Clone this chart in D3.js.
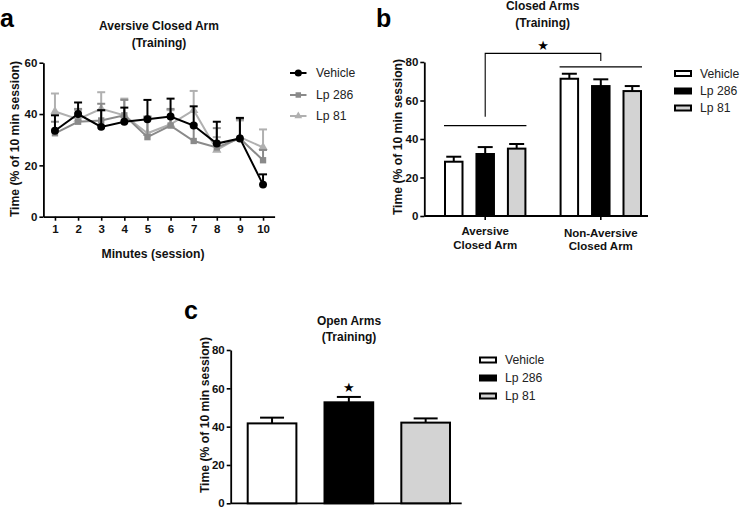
<!DOCTYPE html>
<html><head><meta charset="utf-8">
<script src="https://cdn.jsdelivr.net/npm/d3@7"></script>
<style>
body{margin:0;background:#fff;}
svg{display:block;font-family:"Liberation Sans",Arial,sans-serif;}
</style></head><body>
<svg id="c" width="740" height="508"></svg>
<script>
// ---------- data ----------
const minutes = [1,2,3,4,5,6,7,8,9,10];
const seriesNames = ["Vehicle","Lp 286","Lp 81"];
const vehicleMean = [33.5,40,35,37,38,39,35.5,28.5,30.5,12.5];
const vehicleErr  = [39.5,44.5,41.5,42.5,45.5,46,43,37,38.5,16.5];
const lp286Mean   = [32.5,37,37.5,39.5,31,35.5,29.5,27,30.5,22];
const lp286Err    = [37,42,44,45.5,39,42,36,34.5,38,26];
const lp81Mean    = [41,38,42,39.5,32.5,36,41.5,26,31,27];
const lp81Err     = [48,41.5,48.5,46,39,41.5,49,31,37.5,34];
const ticksA = [0,20,40,60];

const closedGroups = ["Aversive|Closed Arm","Non-Aversive|Closed Arm"];
const closedMean = {"Vehicle":[28.2,71.3],"Lp 286":[32.2,67.5],"Lp 81":[35,64.9]};
const closedErr  = {"Vehicle":[30.8,73.9],"Lp 286":[35.8,71],"Lp 81":[37.4,67.5]};
const ticksB = [0,20,40,60,80];

const openMean = [41.7,52.7,42.1];
const openErr  = [44.7,55.5,44.3];
const ticksC = [0,20,40,60,80];

const barFill = {"Vehicle":"#ffffff","Lp 286":"#000000","Lp 81":"#d3d3d3"};
const lineColor = {"Vehicle":"#000000","Lp 286":"#8a8a8a","Lp 81":"#b0b0b0"};

const svg = d3.select("#c");
const FONT = '"Liberation Sans",Arial,sans-serif';

function yAxis(g, y, ticks){
  const ax = g.call(d3.axisLeft(y).tickValues(ticks).tickSize(4).tickSizeOuter(0).tickPadding(2));
  ax.select(".domain").attr("stroke-width",1.8);
  ax.selectAll(".tick line").attr("stroke-width",1.6);
  ax.selectAll("text").attr("font-size",11.5).attr("font-weight","bold").attr("font-family",FONT).attr("fill","#111");
}
function title(x, y1, lines){
  lines.forEach((t,i)=>svg.append("text").attr("x",x).attr("y",y1+i*16.5).attr("text-anchor","middle")
    .attr("font-size",12).attr("font-weight","bold").attr("fill","#111").text(t));
}
function ylabel(x,y){
  svg.append("text").attr("transform",`translate(${x},${y}) rotate(-90)`).attr("text-anchor","middle")
    .attr("dominant-baseline","central").attr("font-size",12.2).attr("font-weight","bold").attr("fill","#111")
    .text("Time (% of 10 min session)");
}
function letter(x,y,t){
  svg.append("text").attr("x",x).attr("y",y).attr("font-size",25).attr("font-weight","bold").attr("fill","#000").text(t);
}
function star(x,y){
  svg.append("text").attr("x",x).attr("y",y).attr("text-anchor","middle").attr("dominant-baseline","central")
    .attr("font-family","DejaVu Sans").attr("font-size",13).attr("fill","#000").text("\u2605");
}

// ================= Panel a =================
{
  const x = d3.scaleLinear().domain([0.5,10.5]).range([43.4,274.6]);
  const y = d3.scaleLinear().domain([0,60]).range([216.7,62.7]);
  letter(0,27,"a");
  title(159,30,["Aversive Closed Arm","(Training)"]);
  ylabel(15,139);
  const gy = svg.append("g").attr("transform",`translate(${x.range()[0]},0)`);
  yAxis(gy,y,ticksA);
  const gx = svg.append("g").attr("transform",`translate(0,${y(0)})`);
  gx.call(d3.axisBottom(x).tickValues(minutes).tickSize(4).tickSizeOuter(0).tickPadding(4));
  gx.select(".domain").attr("stroke-width",1.8);
  gx.selectAll(".tick line").attr("stroke-width",1.6);
  gx.selectAll("text").attr("font-size",11.5).attr("font-weight","bold").attr("font-family",FONT).attr("fill","#111");
  svg.append("text").attr("x",153).attr("y",257.5).attr("text-anchor","middle").attr("font-size",12.2)
    .attr("font-weight","bold").attr("fill","#111").text("Minutes (session)");

  const series = [
    {name:"Lp 81", mean:lp81Mean, err:lp81Err, sym:d3.symbolTriangle, size:38},
    {name:"Lp 286", mean:lp286Mean, err:lp286Err, sym:d3.symbolSquare, size:40},
    {name:"Vehicle", mean:vehicleMean, err:vehicleErr, sym:d3.symbolCircle, size:50}
  ];
  const line = d3.line().x((d,i)=>x(minutes[i])).y(d=>y(d));
  series.forEach(s=>{
    const c = lineColor[s.name];
    const g = svg.append("g");
    // error bars (upper)
    s.mean.forEach((m,i)=>{
      const cx = x(minutes[i]);
      g.append("line").attr("x1",cx).attr("x2",cx).attr("y1",y(m)).attr("y2",y(s.err[i])).attr("stroke",c).attr("stroke-width",2);
      g.append("line").attr("x1",cx-4).attr("x2",cx+4).attr("y1",y(s.err[i])).attr("y2",y(s.err[i])).attr("stroke",c).attr("stroke-width",2);
    });
    g.append("path").datum(s.mean).attr("d",line).attr("fill","none").attr("stroke",c).attr("stroke-width",2);
    s.mean.forEach((m,i)=>{
      g.append("path").attr("d",d3.symbol().type(s.sym).size(s.size)()).attr("transform",`translate(${x(minutes[i])},${y(m)})`).attr("fill",c);
    });
  });
  // legend
  const legY = [73,95,116];
  const syms = {"Vehicle":[d3.symbolCircle,40],"Lp 286":[d3.symbolSquare,30],"Lp 81":[d3.symbolTriangle,26]};
  seriesNames.forEach((n,i)=>{
    const c = lineColor[n];
    svg.append("line").attr("x1",290).attr("x2",306.5).attr("y1",legY[i]).attr("y2",legY[i]).attr("stroke",c).attr("stroke-width",2);
    svg.append("path").attr("d",d3.symbol().type(syms[n][0]).size(syms[n][1])()).attr("transform",`translate(298.3,${legY[i]})`).attr("fill",c);
    svg.append("text").attr("x",316).attr("y",legY[i]).attr("dominant-baseline","central").attr("font-size",12.2).attr("fill","#222").text(n);
  });
}

// ================= Panel b =================
{
  const y = d3.scaleLinear().domain([0,80]).range([216,62]);
  const xg = d3.scaleBand().domain(closedGroups).range([444,642]).paddingInner(0.287).paddingOuter(0);
  const xs = d3.scaleBand().domain(seriesNames).range([0,xg.bandwidth()]).paddingInner(0.38).paddingOuter(0);
  const axL = 424.3, axR = 648;
  letter(376,27,"b");
  title(542.7,10,["Closed Arms","(Training)"]);
  ylabel(397.5,137);
  const gy = svg.append("g").attr("transform",`translate(${axL},0)`);
  yAxis(gy,y,ticksB);
  svg.append("line").attr("x1",axL).attr("x2",axR).attr("y1",y(0)).attr("y2",y(0)).attr("stroke","#000").attr("stroke-width",1.8);
  closedGroups.forEach((gname,gi)=>{
    const cx = xg(gname)+xg.bandwidth()/2;
    svg.append("line").attr("x1",cx).attr("x2",cx).attr("y1",y(0)).attr("y2",y(0)+4).attr("stroke","#000").attr("stroke-width",1.6);
    gname.split("|").forEach((t,li)=>svg.append("text").attr("x",cx).attr("y",235+li*13.5+gi*1.5).attr("text-anchor","middle")
      .attr("font-size",11.5).attr("font-weight","bold").attr("fill","#111").text(t));
    seriesNames.forEach(n=>{
      const bx = xg(gname)+xs(n), bw = xs.bandwidth(), v = closedMean[n][gi], e = closedErr[n][gi];
      const mid = bx+bw/2;
      svg.append("line").attr("x1",mid).attr("x2",mid).attr("y1",y(v)).attr("y2",y(e)).attr("stroke","#000").attr("stroke-width",2);
      svg.append("line").attr("x1",mid-7.5).attr("x2",mid+7.5).attr("y1",y(e)).attr("y2",y(e)).attr("stroke","#000").attr("stroke-width",2);
      svg.append("rect").attr("x",bx+1).attr("y",y(v)).attr("width",bw-2).attr("height",y(0)-y(v)).attr("fill",barFill[n]).attr("stroke","#000").attr("stroke-width",2);
    });
  });
  // significance brackets
  const g1 = closedGroups[0], g2 = closedGroups[1];
  const c1 = xg(g1)+xg.bandwidth()/2, c2 = xg(g2)+xg.bandwidth()/2;
  svg.append("line").attr("x1",xg(g1)).attr("x2",xg(g1)+xg.bandwidth()).attr("y1",y(47)).attr("y2",y(47)).attr("stroke","#000").attr("stroke-width",1.3);
  svg.append("line").attr("x1",xg(g2)).attr("x2",xg(g2)+xg.bandwidth()).attr("y1",y(77.5)).attr("y2",y(77.5)).attr("stroke","#000").attr("stroke-width",1.3);
  svg.append("path").attr("d",`M${c1},${y(51.5)}V${y(84.5)}H${c2}V${y(80.5)}`).attr("fill","none").attr("stroke","#000").attr("stroke-width",1.1);
  star((c1+c2)/2, y(88.5));
  const legY = [73.5,91,108];
  seriesNames.forEach((n,i)=>{
    svg.append("rect").attr("x",675).attr("y",legY[i]-2.5).attr("width",16).attr("height",5).attr("fill",barFill[n]).attr("stroke","#000").attr("stroke-width",2);
    svg.append("text").attr("x",700).attr("y",legY[i]).attr("dominant-baseline","central").attr("font-size",12.2).attr("fill","#222").text(n);
  });
}

// ================= Panel c =================
{
  const y = d3.scaleLinear().domain([0,80]).range([503.3,350]);
  const x = d3.scaleBand().domain(seriesNames).range([246.7,451]).paddingInner(0.34).paddingOuter(0);
  const axL = 230.7, axR = 461.7;
  letter(184,319,"c");
  title(349,324.5,["Open Arms","(Training)"]);
  ylabel(205,415);
  const gy = svg.append("g").attr("transform",`translate(${axL},0)`);
  yAxis(gy,y,ticksC);
  svg.append("line").attr("x1",axL).attr("x2",axR).attr("y1",y(0)).attr("y2",y(0)).attr("stroke","#000").attr("stroke-width",1.8);
  seriesNames.forEach((n,i)=>{
    const bx = x(n), bw = x.bandwidth(), mid = bx+bw/2;
    svg.append("line").attr("x1",mid).attr("x2",mid).attr("y1",y(openMean[i])).attr("y2",y(openErr[i])).attr("stroke","#000").attr("stroke-width",2);
    svg.append("line").attr("x1",mid-12).attr("x2",mid+12).attr("y1",y(openErr[i])).attr("y2",y(openErr[i])).attr("stroke","#000").attr("stroke-width",2);
    svg.append("rect").attr("x",bx+1).attr("y",y(openMean[i])).attr("width",bw-2).attr("height",y(0)-y(openMean[i])).attr("fill",barFill[n]).attr("stroke","#000").attr("stroke-width",2);
  });
  star(x("Lp 286")+x.bandwidth()/2, y(60.5));
  const legY = [360,378,396];
  seriesNames.forEach((n,i)=>{
    svg.append("rect").attr("x",480).attr("y",legY[i]-2.5).attr("width",16).attr("height",5).attr("fill",barFill[n]).attr("stroke","#000").attr("stroke-width",2);
    svg.append("text").attr("x",505).attr("y",legY[i]).attr("dominant-baseline","central").attr("font-size",12.2).attr("fill","#222").text(n);
  });
}
</script>
</body></html>
